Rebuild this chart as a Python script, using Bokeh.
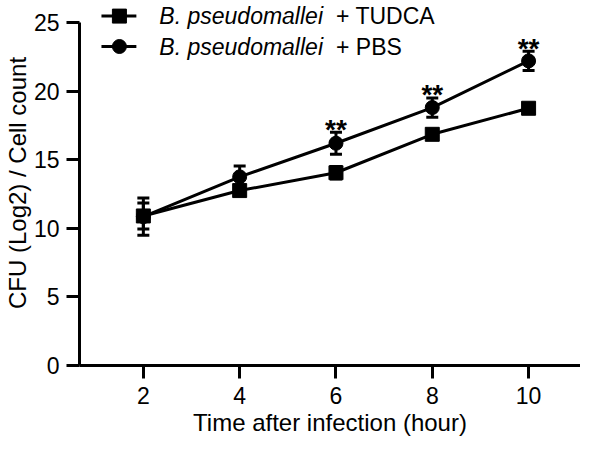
from bokeh.plotting import figure
from bokeh.models import Range1d, ColumnDataSource, Whisker, TeeHead, FixedTicker, Title
from bokeh.embed import file_html
from bokeh.resources import INLINE
from bokeh.core.properties import value

# ---- data ----
hours = [2, 4, 6, 8, 10]
tudca_mean = [10.9, 12.75, 14.05, 16.85, 18.75]
tudca_err = [0.95, 0.3, 0.45, 0.3, 0.3]
pbs_mean = [10.85, 13.75, 16.2, 18.8, 22.2]
pbs_err = [1.35, 0.8, 0.8, 0.7, 0.7]
sig_hours = [6, 8, 10]
sig_text = ["**", "**", "**"]
x_ticks = [2, 4, 6, 8, 10]
y_ticks = [0, 5, 10, 15, 20, 25]
series_species = "B. pseudomallei"
series_labels = ["+ TUDCA", "+ PBS"]
x_title = "Time after infection (hour)"
y_title = "CFU (Log2) / Cell count"

FONT = "Liberation Sans"
FS_TICK = "23px"
FS_TITLE = "24px"
FS_LEG = "23px"

Y_TOP = 26.604
p = figure(width=580, height=437, output_backend="svg", toolbar_location=None,
           x_range=Range1d(0.674, 11.078), y_range=Range1d(0, Y_TOP),
           min_border_left=78, min_border_right=0, min_border_top=0, min_border_bottom=72)
p.outline_line_color = None
p.xgrid.visible = False
p.ygrid.visible = False

for ax in (p.xaxis[0], p.yaxis[0]):
    ax.axis_line_width = 3
    ax.major_tick_line_width = 3
    ax.major_tick_out = 13
    ax.major_tick_in = 0
    ax.minor_tick_line_color = None
    ax.major_label_text_font = FONT
    ax.major_label_text_font_size = FS_TICK
    ax.major_label_text_color = "black"
    ax.axis_label_text_font = FONT
    ax.axis_label_text_font_size = FS_TITLE
    ax.axis_label_text_font_style = "normal"
    ax.axis_label_text_color = "black"

p.xaxis.ticker = FixedTicker(ticks=x_ticks)
p.yaxis.ticker = FixedTicker(ticks=y_ticks)
p.yaxis.bounds = (0, 25)
p.yaxis.axis_label = y_title
p.xaxis.major_label_standoff = 8
p.yaxis.major_label_standoff = 7
p.yaxis.axis_label_standoff = 0

# x-axis title as a title panel below the axis
p.add_layout(Title(text=x_title, align="center", vertical_align="bottom", standoff=0,
                   text_font=FONT, text_font_size=FS_TITLE, text_font_style="normal",
                   text_color="black"), "below")

PX_PER_Y = 365 / Y_TOP

src_t = ColumnDataSource(dict(x=hours, y=tudca_mean,
                              lo=[m - e for m, e in zip(tudca_mean, tudca_err)],
                              hi=[m + e for m, e in zip(tudca_mean, tudca_err)]))
src_p = ColumnDataSource(dict(x=hours, y=pbs_mean,
                              lo=[m - e for m, e in zip(pbs_mean, pbs_err)],
                              hi=[m + e for m, e in zip(pbs_mean, pbs_err)]))

for src in (src_t, src_p):
    w = Whisker(source=src, base="x", lower="lo", upper="hi", line_width=3, line_color="black",
                upper_head=TeeHead(size=12, line_width=3, line_color="black"),
                lower_head=TeeHead(size=12, line_width=3, line_color="black"))
    p.add_layout(w)

p.line("x", "y", source=src_t, line_width=3, color="black")
p.line("x", "y", source=src_p, line_width=3, color="black")
p.scatter("x", "y", source=src_t, marker="square", size=14, color="black")
p.scatter("x", "y", source=src_p, marker="circle", size=14, color="black")

# significance stars above PBS error bars
sig_y = [m + e for h, m, e in zip(hours, pbs_mean, pbs_err) if h in sig_hours]
p.text(x=sig_hours, y=sig_y, text=sig_text, text_align="center", text_baseline="alphabetic",
       y_offset=-3, text_font=value(FONT), text_font_size="28px", text_font_style="bold",
       text_color="black")

# legend (layout positions in data space)
leg_rows = [Y_TOP - 15.6 / PX_PER_Y, Y_TOP - 46 / PX_PER_Y]
leg_line_x = [1.13, 1.855]
leg_mark_x = 1.503
leg_text_x = 2.332
leg_plus_x = 6.0
markers = ["square", "circle"]
for row, mk, lab in zip(leg_rows, markers, series_labels):
    p.line(leg_line_x, [row, row], line_width=3, color="black")
    p.scatter([leg_mark_x], [row], marker=mk, size=14, color="black")
    p.text(x=[leg_text_x], y=[row], text=[series_species], text_baseline="middle",
           text_font=value(FONT), text_font_size=FS_LEG, text_font_style="italic", text_color="black")
    p.text(x=[leg_plus_x], y=[row], text=[lab], text_baseline="middle",
           text_font=value(FONT), text_font_size=FS_LEG, text_color="black")

open("out.html", "w").write(file_html(p, INLINE))
